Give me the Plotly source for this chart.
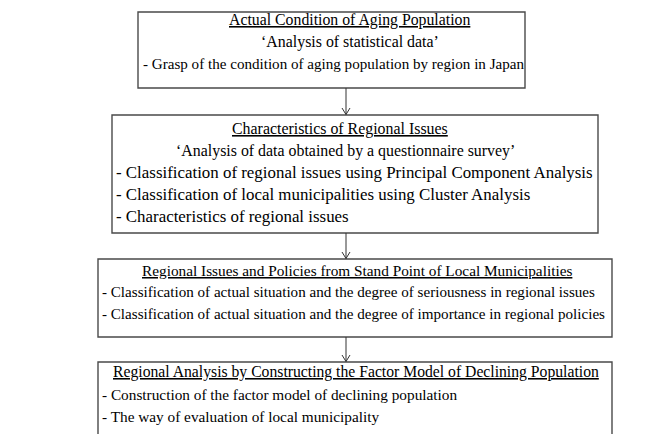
import plotly.graph_objects as go

W, H = 664, 434

# ---- content ----
titles = [
    "Actual Condition of Aging Population",
    "Characteristics of Regional Issues",
    "Regional Issues and Policies from Stand Point of Local Municipalities",
    "Regional Analysis by Constructing the Factor Model of Declining Population",
]
subtitles = [
    "\u2018Analysis of statistical data\u2019",
    "\u2018Analysis of data obtained by a questionnaire survey\u2019",
    "",
    "",
]
items_box1 = ["- Grasp of the condition of aging population by region in Japan"]
items_box2 = [
    "- Classification of regional issues using Principal Component Analysis",
    "- Classification of local municipalities using Cluster Analysis",
    "- Characteristics of regional issues",
]
items_box3 = [
    "- Classification of actual situation and the degree of seriousness in regional issues",
    "- Classification of actual situation and the degree of importance in regional policies",
]
items_box4 = [
    "- Construction of the factor model of declining population",
    "- The way of evaluation of local municipality",
]
items = [items_box1, items_box2, items_box3, items_box4]

# ---- layout (pixel geometry) ----
box_x0 = [130, 104, 90, 90]
box_x1 = [517, 590, 604, 604]
box_y0 = [4, 107, 251, 354]
box_y1 = [80, 225, 329, 450]
title_y = [12, 121, 262, 364]
title_x = [341, 332, 349, 348]
sub_x = [342, 337, 0, 0]
text_x = [133, 106, 92, 92]
line_gaps = [22, 21.8, 22, 22]
title_fs = [15.8, 15.9, 15.3, 15.7]
sub_fs = [15.9, 15.9, 15.5, 15.5]
item_fs = [15.1, 16.9, 15.1, 15.3]
arrow_x = 338

FONT = "Liberation Serif"

fig = go.Figure()
shapes = []
annotations = []

for i in range(4):
    shapes.append(dict(type="rect", xref="x", yref="y",
                       x0=box_x0[i], x1=box_x1[i], y0=box_y0[i], y1=box_y1[i],
                       line=dict(color="#4a4a4a", width=1.4), fillcolor="rgba(0,0,0,0)"))
    y = title_y[i]
    annotations.append(dict(x=title_x[i], y=y, xref="x", yref="y", text="<u>" + titles[i] + "</u>",
                            showarrow=False, xanchor="center", yanchor="middle",
                            font=dict(family=FONT, size=title_fs[i], color="black")))
    if subtitles[i]:
        y += line_gaps[i]
        annotations.append(dict(x=sub_x[i], y=y, xref="x", yref="y", text=subtitles[i],
                                showarrow=False, xanchor="center", yanchor="middle",
                                font=dict(family=FONT, size=sub_fs[i], color="black")))
    for t in items[i]:
        y += line_gaps[i]
        annotations.append(dict(x=text_x[i], y=y, xref="x", yref="y", text=t,
                                showarrow=False, xanchor="left", yanchor="middle",
                                font=dict(family=FONT, size=item_fs[i], color="black")))

# arrows between boxes
for i in range(3):
    ys, ye = box_y1[i], box_y0[i + 1]
    shapes.append(dict(type="line", xref="x", yref="y", x0=arrow_x, x1=arrow_x,
                       y0=ys, y1=ye - 0.5, line=dict(color="#333333", width=1)))
    shapes.append(dict(type="path", xref="x", yref="y",
                       path=f"M {arrow_x-4},{ye-7} L {arrow_x},{ye-0.5} L {arrow_x+4},{ye-7}",
                       line=dict(color="#333333", width=1)))

fig.update_layout(
    width=W, height=H,
    margin=dict(l=0, r=0, t=0, b=0),
    paper_bgcolor="white", plot_bgcolor="white",
    xaxis=dict(range=[0, W], visible=False, fixedrange=True),
    yaxis=dict(range=[H, 0], visible=False, fixedrange=True),
    shapes=shapes, annotations=annotations,
    showlegend=False,
)

fig.write_html("out.html")
